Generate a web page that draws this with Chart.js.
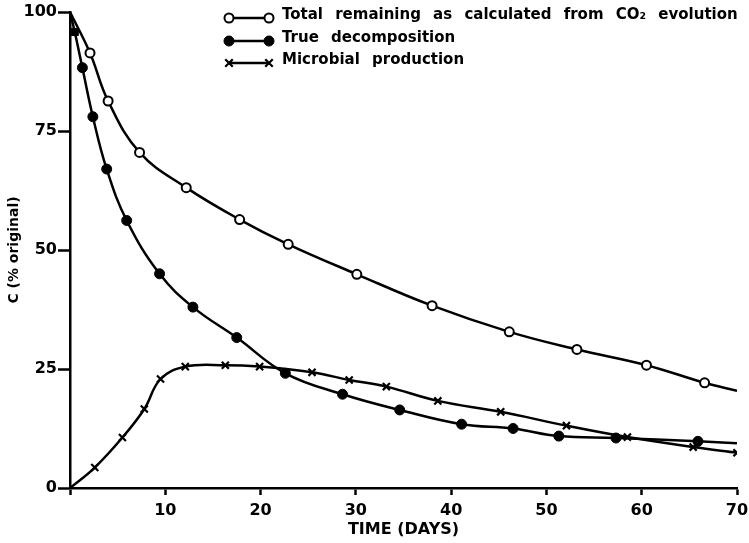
<!DOCTYPE html>
<html>
<head>
<meta charset="utf-8">
<script src="https://cdn.jsdelivr.net/npm/chart.js@4.4.1/dist/chart.umd.min.js"></script>
<style>
  html, body { margin: 0; padding: 0; background: #fff; }
  #wrap { width: 749px; height: 543px; }
</style>
</head>
<body>
<div id="wrap"><canvas id="grafico"></canvas></div>
<script>
// Dados (dias, % do C original)
const totalDays = [0, 2.1, 4.0, 7.3, 12.2, 17.8, 22.9, 30.1, 38.0, 46.1, 53.2, 60.5, 66.6, 70];
const totalC    = [100, 91.4, 81.3, 70.5, 63.1, 56.4, 51.2, 44.9, 38.3, 32.8, 29.1, 25.8, 22.1, 20.4];

const trueDays = [0, 0.5, 1.3, 2.4, 3.85, 5.95, 9.4, 12.9, 17.5, 22.6, 28.6, 34.6, 41.1, 46.5, 51.3, 57.3, 65.9, 70];
const trueC    = [100, 95.8, 88.3, 78, 67, 56.2, 45, 38, 31.6, 24.1, 19.7, 16.4, 13.4, 12.5, 10.9, 10.5, 9.8, 9.4];

const microDays = [0, 2.6, 5.5, 7.8, 9.5, 12.1, 16.3, 19.9, 25.4, 29.3, 33.2, 38.6, 45.2, 52.1, 58.5, 65.4, 70];
const microC    = [0, 4.3, 10.6, 16.6, 22.9, 25.5, 25.8, 25.5, 24.3, 22.7, 21.3, 18.3, 16, 13.1, 10.7, 8.6, 7.4];

const seriesLabels = [
  "Total remaining as calculated from CO\u2082 evolution",
  "True decomposition",
  "Microbial production"
];
const xTicks = [0, 10, 20, 30, 40, 50, 60, 70];
const yTicks = [0, 25, 50, 75, 100];

const FONT = "'DejaVu Sans', sans-serif";

function pontos(xs, ys) {
  return xs.map((x, i) => ({ x: x, y: ys[i] }));
}

// raio dos marcadores: sem marcador nas pontas sem símbolo
function raios(n, r, semPrimeiro, semUltimo) {
  return Array.from({ length: n }, (_, i) => {
    if (semPrimeiro && i === 0) return 0;
    if (semUltimo && i === n - 1) return 0;
    return r;
  });
}

// legenda desenhada dentro da área do gráfico (o—o, •—•, x—x)
const legendaInterna = {
  id: 'legendaInterna',
  afterDatasetsDraw(chart) {
    const ctx = chart.ctx;
    const x0 = 229, x1 = 269, xt = 282;
    const linhas = [18, 41, 63];
    ctx.save();
    chart.data.datasets.forEach((ds, i) => {
      const y = linhas[i];
      ctx.strokeStyle = '#000';
      ctx.lineWidth = 2.5;
      ctx.beginPath();
      ctx.moveTo(x0, y);
      ctx.lineTo(x1, y);
      ctx.stroke();
      [x0, x1].forEach(px => {
        ctx.fillStyle = ds.pointBackgroundColor;
        ctx.strokeStyle = '#000';
        ctx.lineWidth = ds.pointBorderWidth;
        ctx.beginPath();
        if (ds.pointStyle === 'crossRot') {
          const r = ds.legendRadius * 0.75;
          ctx.moveTo(px - r, y - r); ctx.lineTo(px + r, y + r);
          ctx.moveTo(px + r, y - r); ctx.lineTo(px - r, y + r);
          ctx.stroke();
        } else {
          ctx.arc(px, y, ds.legendRadius, 0, Math.PI * 2);
          ctx.fill();
          ctx.stroke();
        }
      });
      ctx.fillStyle = '#000';
      ctx.font = "bold 15px " + FONT;
      ctx.wordSpacing = '7px';
      ctx.textBaseline = 'middle';
      ctx.textAlign = 'left';
      ctx.fillText(ds.label, xt, y - 3);
    });
    ctx.restore();
  }
};

const ctx = document.getElementById('grafico').getContext('2d');

new Chart(ctx, {
  type: 'line',
  data: {
    datasets: [
      {
        label: seriesLabels[0],
        data: pontos(totalDays, totalC),
        borderColor: '#000',
        borderWidth: 2.5,
        pointStyle: 'circle',
        pointRadius: raios(totalDays.length, 4.5, true, true),
        pointBorderWidth: 2,
        pointBackgroundColor: '#fff',
        pointBorderColor: '#000',
        legendRadius: 4.5,
        tension: 0.4
      },
      {
        label: seriesLabels[1],
        data: pontos(trueDays, trueC),
        borderColor: '#000',
        borderWidth: 2.5,
        pointStyle: trueDays.map((d, i) => i === 1 ? 'rect' : 'circle'),
        pointRadius: raios(trueDays.length, 5, true, true),
        pointBorderWidth: 1,
        pointBackgroundColor: '#000',
        pointBorderColor: '#000',
        legendRadius: 5,
        tension: 0.4
      },
      {
        label: seriesLabels[2],
        data: pontos(microDays, microC),
        borderColor: '#000',
        borderWidth: 2.5,
        pointStyle: 'crossRot',
        pointRadius: raios(microDays.length, 5, true, false),
        pointBorderWidth: 2.2,
        pointBackgroundColor: '#000',
        pointBorderColor: '#000',
        legendRadius: 5,
        tension: 0.4
      }
    ]
  },
  options: {
    responsive: true,
    maintainAspectRatio: false,
    animation: false,
    layout: { padding: { top: 12, right: 12, left: 0, bottom: 0 } },
    plugins: {
      legend: { display: false },
      tooltip: { enabled: false }
    },
    scales: {
      x: {
        type: 'linear',
        min: 0,
        max: 70,
        afterBuildTicks: (scale) => { scale.ticks = xTicks.map(v => ({ value: v })); },
        afterFit: (scale) => {
          scale.height = 55;
          scale.paddingLeft = 0;
          scale.paddingRight = 0;
        },
        ticks: {
          color: '#000',
          font: { family: FONT, size: 16, weight: 'bold' },
          padding: 6,
          maxRotation: 0,
          callback: (v) => v === 0 ? '' : v
        },
        grid: { drawOnChartArea: false, color: '#000', tickLength: 7, tickWidth: 2.5 },
        border: { color: '#000', width: 2.5 },
        title: {
          display: true,
          text: 'TIME (DAYS)',
          color: '#000',
          font: { family: FONT, size: 16, weight: 'bold', lineHeight: 1.2 },
          padding: { top: 0, bottom: 4 }
        }
      },
      y: {
        min: 0,
        max: 100,
        afterBuildTicks: (scale) => { scale.ticks = yTicks.map(v => ({ value: v })); },
        afterFit: (scale) => {
          scale.width = 70;
          scale.paddingTop = 0;
          scale.paddingBottom = 0;
        },
        ticks: {
          color: '#000',
          font: { family: FONT, size: 16, weight: 'bold' },
          padding: 1
        },
        grid: { drawOnChartArea: false, color: '#000', tickLength: 12, tickWidth: 2.5 },
        border: { color: '#000', width: 2.5 },
        title: {
          display: true,
          text: 'C (% original)',
          color: '#000',
          font: { family: FONT, size: 14, weight: 'bold', lineHeight: 1.2 },
          padding: { top: 6, bottom: 0 }
        }
      }
    }
  },
  plugins: [legendaInterna]
});
</script>
</body>
</html>
